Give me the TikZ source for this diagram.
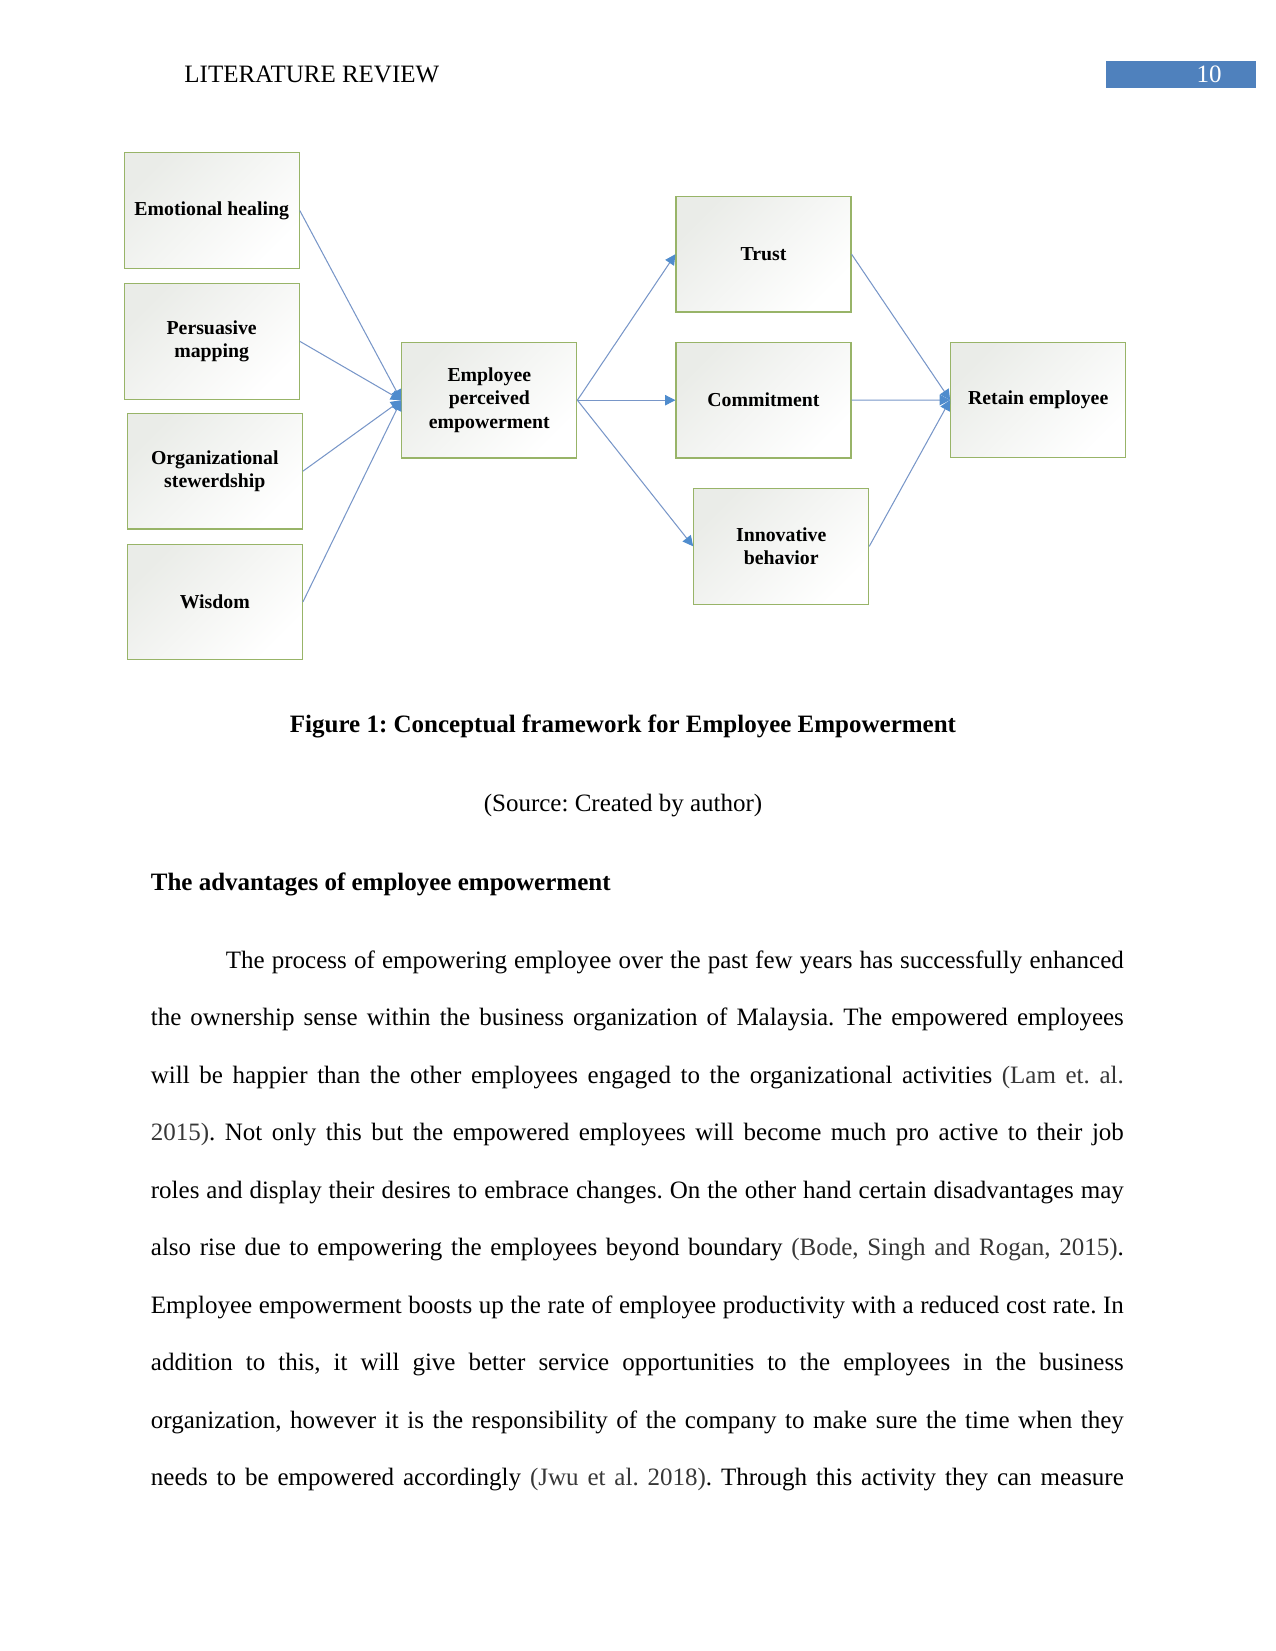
\documentclass[tikz,border=0pt]{standalone}
\usepackage{fontspec}
\setmainfont{Liberation Serif}
\usetikzlibrary{arrows.meta}
\frenchspacing

\definecolor{boxedge}{RGB}{152,180,104}
\definecolor{boxshade}{RGB}{234,236,232}
\definecolor{linkcol}{RGB}{120,150,200}
\definecolor{tipcol}{RGB}{79,140,205}
\definecolor{pagecol}{RGB}{79,129,189}
\definecolor{citecol}{RGB}{55,55,55}

\newcommand{\citetxt}[1]{\textcolor{citecol}{#1}}

\tikzset{
  concept/.style={draw=boxedge, line width=0.55pt, top color=boxshade, bottom color=white,
    shading angle=45, minimum width=84pt, minimum height=55.5pt, inner sep=2pt,
    align=center, font=\fontsize{9.5}{11.2}\selectfont\bfseries},
  link/.style={draw=linkcol, line width=0.5pt, -{Triangle[length=5pt,width=5pt,color=tipcol]}},
  bodyline/.style={anchor=base west, inner sep=0pt, font=\fontsize{12}{14}\selectfont},
}

\begin{document}
\begin{tikzpicture}[x=0.48pt,y=-0.48pt]
\useasboundingbox (0,0) rectangle (1275,1651);

% Running head and page number
\node[bodyline] (runhead) at (184,82.7) {LITERATURE REVIEW};
\node[fill=pagecol, minimum width=71.9pt, minimum height=13.1pt, inner sep=0pt] (pagebox) at (1180.8,74.7) {};
\node[anchor=base, inner sep=0pt, text=white, font=\fontsize{12}{14}\selectfont] (pagenum) at (1209,82.5) {10};

% Antecedents
\node[concept] (emo)  at (211.7,210.5) {Emotional healing};
\node[concept] (pers) at (211.7,341.3) {Persuasive\\mapping};
\node[concept] (org)  at (214.8,471.2) {Organizational\\stewerdship};
\node[concept] (wis)  at (214.8,602)   {Wisdom};

% Mediator
\node[concept] (emp) at (489.3,400.2) {Employee\\perceived\\empowerment};

% Outcomes
\node[concept] (trust) at (763.5,254.2) {Trust};
\node[concept] (comm)  at (763.5,400.2) {Commitment};
\node[concept] (innov) at (781.2,546.3) {Innovative\\behavior};
\node[concept] (ret)   at (1038.2,400)  {Retain employee};

% Connect boxes
\foreach \src in {emo,pers,org,wis}
  \draw[link] (\src.east) -- (emp.west);
\foreach \dst in {trust,comm,innov}
  \draw[link] (emp.east) -- (\dst.west);
\foreach \src in {trust,comm,innov}
  \draw[link] (\src.east) -- (ret.west);

% Caption
\node[anchor=base, inner sep=0pt, font=\fontsize{12}{14}\selectfont\bfseries] (caption) at (623,732.7)
  {Figure 1: Conceptual framework for Employee Empowerment};
\node[anchor=base, inner sep=0pt, font=\fontsize{12}{14}\selectfont] (source) at (623,811.7)
  {(Source: Created by author)};

% Section heading and paragraph
\node[bodyline, font=\fontsize{12}{14}\selectfont\bfseries] (heading) at (150.5,890)
  {The advantages of employee empowerment};
\node[anchor=base west, inner sep=0pt, text width=467pt, align=justify,
      font=\fontsize{12}{27.6}\selectfont] (bodytext) at (150.5,968.3)
  {\parfillskip=0pt\hspace*{36pt}The process of empowering employee over the past few years has successfully enhanced\linebreak
  the ownership sense within the business organization of Malaysia. The empowered employees\linebreak
  will be happier than the other employees engaged to the organizational activities \citetxt{(Lam et. al.}\linebreak
  \citetxt{2015)}. Not only this but the empowered employees will become much pro active to their job\linebreak
  roles and display their desires to embrace changes. On the other hand certain disadvantages may\linebreak
  also rise due to empowering the employees beyond boundary \citetxt{(Bode, Singh and Rogan, 2015)}.\linebreak
  Employee empowerment boosts up the rate of employee productivity with a reduced cost rate. In\linebreak
  addition to this, it will give better service opportunities to the employees in the business\linebreak
  organization, however it is the responsibility of the company to make sure the time when they\linebreak
  needs to be empowered accordingly \citetxt{(Jwu et al. 2018)}. Through this activity they can measure\par};
\end{tikzpicture}
\end{document}
